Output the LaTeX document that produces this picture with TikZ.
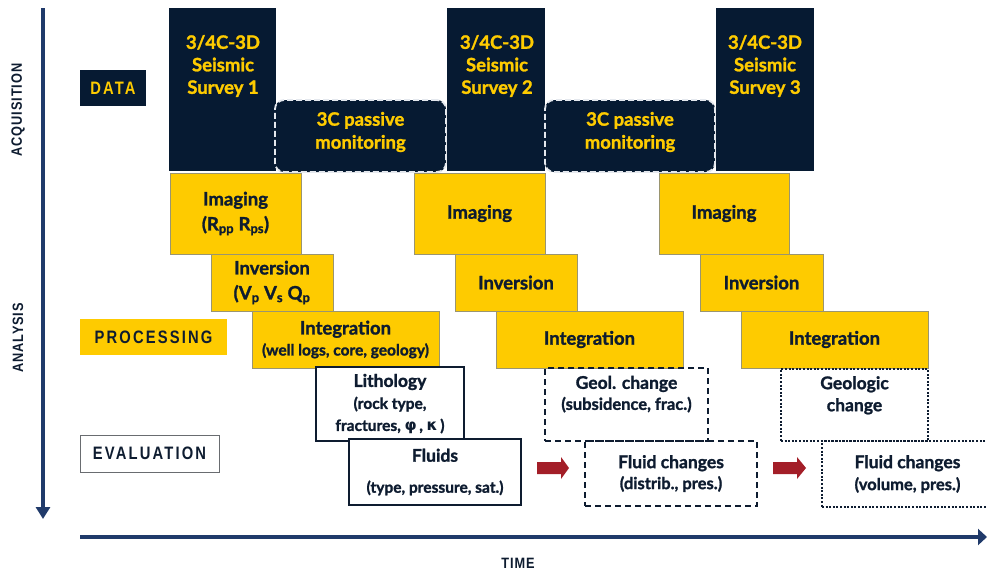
\documentclass[tikz,border=0pt]{standalone}
\usepackage{fontspec}
\setmainfont{Lato}[BoldFeatures={FakeBold=1.4}]
\newfontfamily\grk{DejaVu Sans}
\newfontfamily\lblf{Liberation Sans}[FakeStretch=0.82,LetterSpace=12]
\newfontfamily\axf{Liberation Sans}[FakeStretch=0.85,LetterSpace=6]
\usetikzlibrary{arrows.meta}
\definecolor{navy}{HTML}{061A32}
\definecolor{gold}{HTML}{FECB00}
\definecolor{ink}{HTML}{0E1C30}
\definecolor{axiscol}{HTML}{203A6A}
\definecolor{redarrow}{HTML}{A31E28}
\definecolor{ygborder}{HTML}{9A9570}
\definecolor{dashwhite}{HTML}{E4E8EE}
\begin{document}
\begin{tikzpicture}[x=1pt,y=-1pt,
  box/.style={anchor=north west, inner sep=0pt, outer sep=0pt, align=center},
  survey/.style={box, fill=navy},
  passive/.style={box, fill=navy, draw=dashwhite, dash pattern=on 6pt off 3pt, line width=1.8pt, rounded corners=9pt},
  passivetext/.style={align=center, text=gold, font=\bfseries\fontsize{18.5}{23}\selectfont},
  proc/.style={box, fill=gold, draw=ygborder, line width=0.8pt, text=ink, font=\bfseries\fontsize{18.5}{25}\selectfont},
  evalbox/.style={box, draw=ink, line width=2pt, fill=white, text=ink, font=\bfseries\fontsize{17.5}{22}\selectfont},
  dashbox/.style={box, draw=ink, line width=2pt, dash pattern=on 6pt off 4pt, text=ink, font=\bfseries\fontsize{17.5}{21}\selectfont},
  dotbox/.style={box, draw=ink, line width=2pt, dash pattern=on 2pt off 1.6pt, text=ink, font=\bfseries\fontsize{17.5}{22}\selectfont},
  surveytext/.style={align=center, text=gold, font=\bfseries\fontsize{18.5}{22.5}\selectfont},
  axisline/.style={draw=axiscol, line width=4.6pt},
  axislabel/.style={text=ink, font=\axf\bfseries\fontsize{15}{17}\selectfont},
  rowlabel/.style={box, minimum height=36pt, font=\lblf\bfseries\fontsize{18}{20}\selectfont}
]
\useasboundingbox (0,0) rectangle (987,574);
\clip (0,0) rectangle (987,574);

% axes
\coordinate (vtop) at (43,8);
\coordinate (vbot) at (43,519);
\draw[axisline, -{Triangle[width=14pt,length=12pt]}] (vtop) -- (vbot);
\coordinate (hleft) at (80,537);
\coordinate (hright) at (987,537);
\draw[axisline, -{Triangle[width=16pt,length=9pt]}] (hleft) -- (hright);
\node[axislabel, rotate=90] (acq) at (18,110) {ACQUISITION};
\node[axislabel, rotate=90] (ana) at (18,338) {ANALYSIS};
\node[axislabel] (time) at (518,563) {TIME};

% row labels
\node[rowlabel, fill=navy, text=gold, minimum width=66pt] (data) at (80,70) {DATA};
\node[rowlabel, fill=gold, text=ink, minimum width=147pt] (proclbl) at (80,319) {PROCESSING};
\node[rowlabel, fill=white, draw=gray!80!ink, line width=0.9pt, text=ink, minimum width=139pt, minimum height=37pt] (evallbl) at (80,435) {EVALUATION};

% seismic surveys
\node[survey, minimum width=107pt, minimum height=163pt] (s1) at (169,8) {};
\node[survey, minimum width=98pt, minimum height=163pt] (s2) at (447,8) {};
\node[survey, minimum width=98pt, minimum height=163pt] (s3) at (716,8) {};
\node[surveytext] (s1t) at (223,66) {3/4C-3D\\Seismic\\Survey 1};
\node[surveytext] (s2t) at (497,66) {3/4C-3D\\Seismic\\Survey 2};
\node[surveytext] (s3t) at (765,66) {3/4C-3D\\Seismic\\Survey 3};

% passive monitoring
\node[passive, minimum width=171pt, minimum height=72pt] (p1) at (275,100) {};
\node[passive, minimum width=170pt, minimum height=72pt] (p2) at (545,100) {};
\node[passivetext] (p1t) at ([yshift=4pt]p1.center) {3C passive\\monitoring};
\node[passivetext] (p2t) at ([yshift=4pt]p2.center) {3C passive\\monitoring};

% processing column 1
\node[proc, minimum width=131pt, minimum height=81pt] (im1) at (170,173) {Imaging\\(R\textsubscript{pp} R\textsubscript{ps})};
\node[proc, minimum width=122pt, minimum height=57pt] (inv1) at (211,254) {Inversion\\(V\textsubscript{p} V\textsubscript{s} Q\textsubscript{p}};
\node[proc, minimum width=187pt, minimum height=57pt] (int1) at (252,311) {Integration\\[-4pt]{\fontsize{15.5}{19}\selectfont (well logs, core, geology)}};
% processing column 2
\node[proc, minimum width=131pt, minimum height=81pt] (im2) at (414,173) {Imaging};
\node[proc, minimum width=122pt, minimum height=57pt] (inv2) at (455,254) {Inversion};
\node[proc, minimum width=187pt, minimum height=57pt] (int2) at (496,311) {Integration};
% processing column 3
\node[proc, minimum width=130pt, minimum height=81pt] (im3) at (659,173) {Imaging};
\node[proc, minimum width=123pt, minimum height=57pt] (inv3) at (700,254) {Inversion};
\node[proc, minimum width=187pt, minimum height=57pt] (int3) at (741,311) {Integration};

% evaluation column 1
\node[evalbox, minimum width=148pt, minimum height=74pt] (lith) at (316,367) {Lithology\\{\fontsize{15.5}{22}\selectfont (rock type,}\\{\fontsize{15.5}{23}\selectfont fractures, {\grk φ}\,, {\grk κ}\,)}};
\node[evalbox, minimum width=172pt, minimum height=66pt] (fl1) at (349,439) {Fluids\\[9pt]{\fontsize{15.5}{19}\selectfont (type, pressure, sat.)}};
% evaluation column 2
\node[dashbox, minimum width=163pt, minimum height=73pt] (geo2) at (545,368) {Geol. change\\{\fontsize{16.5}{21}\selectfont (subsidence, frac.)}\\[-4pt]\strut};
\node[dashbox, minimum width=172pt, minimum height=65pt] (fl2) at (585,441) {Fluid changes\\{\fontsize{16.5}{20}\selectfont (distrib., pres.)}};
% evaluation column 3
\node[dotbox, minimum width=147pt, minimum height=72pt] (geo3) at (781,369) {Geologic\\change\\[-6pt]\strut};
\node[dotbox, minimum width=171pt, minimum height=66pt] (fl3) at (822,441) {Fluid changes\\{\fontsize{16.5}{21}\selectfont (volume, pres.)}};

% red block arrows
\fill[redarrow] (537,462) -- (561,462) -- (561,457) -- (569,468) -- (561,479) -- (561,474) -- (537,474) -- cycle;
\fill[redarrow] (773,462) -- (797,462) -- (797,457) -- (806,468) -- (797,479) -- (797,474) -- (773,474) -- cycle;
\end{tikzpicture}
\end{document}
